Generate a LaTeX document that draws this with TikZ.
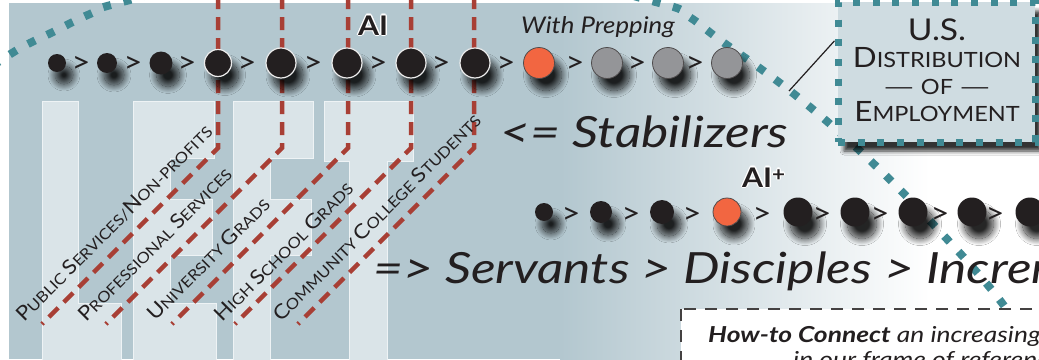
\documentclass[tikz,border=0pt]{standalone}
\usepackage{fontspec}
\usepackage{graphicx}
\setmainfont{Lato}[FakeStretch=1.12]
\newfontfamily\widefont{Lato}[FakeStretch=1.2]
\usetikzlibrary{shadows.blur}

\definecolor{bgblue}{RGB}{179,199,207}
\definecolor{letterfill}{RGB}{218,228,232}
\definecolor{letterline}{RGB}{238,243,245}
\definecolor{redline}{RGB}{168,63,53}
\definecolor{tealdot}{RGB}{64,138,148}
\definecolor{ink}{RGB}{35,31,32}
\definecolor{orangedot}{RGB}{242,102,65}
\definecolor{graydot}{RGB}{148,149,152}
\definecolor{boxfill}{RGB}{207,220,225}

\newcommand{\initcap}[1]{{\fontsize{20}{20}\selectfont #1}}
\newcommand{\boxcap}[1]{{\fontsize{28}{28}\selectfont #1}}
\newcommand{\longdash}{\scalebox{1.7}[1]{—}}
\newcommand{\aiplus}{\raisebox{6pt}{\fontsize{20}{20}\selectfont +}}

\tikzset{
  dotshadow/.style={blur shadow={shadow xshift=7pt, shadow yshift=-12pt, shadow blur radius=7pt,
    shadow blur steps=24, shadow opacity=85}},
  blackdot/.style={circle, inner sep=0pt, outer sep=0pt, fill=ink, dotshadow},
  rimdot/.style={blackdot, draw=white!85!gray, line width=1.2pt, minimum size=30pt},
  orangeball/.style={blackdot, fill=orangedot, draw=ink!80, line width=0.8pt},
  grayball/.style={blackdot, fill=graydot, draw=ink!80, line width=0.8pt, minimum size=31pt},
  gtsign/.style={font=\fontsize{29}{29}\selectfont, text=ink, inner sep=0pt},
  redpath/.style={draw=redline, line width=4.5pt, dash pattern=on 13pt off 8pt},
  tealpath/.style={draw=tealdot, line width=8pt, dash pattern=on 8pt off 13pt},
  grouplabel/.style={rotate=45, anchor=base west, inner sep=0pt, text=ink, font=\fontsize{15}{15}\selectfont},
  bigitalic/.style={anchor=base west, inner sep=0pt, text=ink, font=\fontsize{43}{43}\widefont\itshape},
  aimark/.style={anchor=base west, inner sep=0pt, font=\fontsize{27}{27}\selectfont\bfseries},
  letterbg/.style={fill=letterfill, draw=letterline, line width=1pt},
  usbox/.style={rectangle, minimum width=197pt, minimum height=140pt, inner sep=0pt, fill=boxfill,
    draw=tealdot, line width=7pt, dash pattern=on 7pt off 12.7pt,
    blur shadow={shadow xshift=6pt, shadow yshift=-9pt, shadow blur radius=4pt, shadow opacity=80}},
  howtobox/.style={fill=white, draw=ink!85, line width=2pt, dash pattern=on 12pt off 9pt},
  howtotext/.style={anchor=base west, inner sep=0pt, text=ink, font=\fontsize{22}{22}\widefont\itshape},
}

\begin{document}
\begin{tikzpicture}[x=1pt, y=-1pt]
\useasboundingbox (0,0) rectangle (1039,359);
\clip (0,0) rectangle (1039,359);

% background
\fill[white] (0,0) rectangle (1039,359);
\fill[bgblue] (9,3) rectangle (561,359);
\shade[left color=bgblue, right color=white] (560,3) rectangle (930,359);

% LEFT
\draw[letterbg] (42,101) -- (78,101) -- (78,303) -- (121,303) -- (121,365) -- (42,365) -- cycle;
\draw[letterbg] (133,101) -- (214,101) -- (214,158) -- (170,158) -- (170,199) -- (212,199) -- (212,255)
  -- (170,255) -- (170,303) -- (216,303) -- (216,365) -- (133,365) -- cycle;
\draw[letterbg] (233,101) -- (313,101) -- (313,158) -- (270,158) -- (270,199) -- (311,199) -- (311,255)
  -- (270,255) -- (270,365) -- (233,365) -- cycle;
\draw[letterbg] (324,101) -- (413,101) -- (413,161) -- (387,161) -- (387,365) -- (349,365) -- (349,161)
  -- (324,161) -- cycle;

% distribution curve
\coordinate (curvehit) at (789,91);
\draw[tealpath] plot[smooth, tension=0.6] coordinates {(-25,78) (17,50) (53,32) (90,14) (130,0)
  (389,-62) (648,0) (686,15) (720,40) (789,90) (859,150) (932,223) (1002,303) (1050,380)};

% group lines
\foreach \x in {218,282,348,411,474}
  \draw[redpath] (\x,-4) -- (\x,148) -- ++(-176,176);

\node[grouplabel] (lblpublic) at (24,323) {\initcap{P}UBLIC \initcap{S}ERVICES/\initcap{N}ON-PROFITS};
\node[grouplabel] (lblprof) at (86,323) {\initcap{P}ROFESSIONAL \initcap{S}ERVICES};
\node[grouplabel] (lbluni) at (155,322) {\initcap{U}NIVERSITY \initcap{G}RADS};
\node[grouplabel] (lblhigh) at (222,323) {\initcap{H}IGH \initcap{S}CHOOL \initcap{G}RADS};
\node[grouplabel] (lblcomm) at (281,323) {\initcap{C}OMMUNITY \initcap{C}OLLEGE \initcap{S}TUDENTS};

% upper row
\foreach \x/\d [count=\i] in {57/18,107/20,161/23}
  \node[blackdot, minimum size=\d pt] (top\i) at (\x,63) {};
\node[rimdot, minimum size=27pt] (top4) at (218,63) {};
\foreach \x [count=\i from 5] in {281,347,411,475}
  \node[rimdot] (top\i) at (\x,63) {};
\node[orangeball, minimum size=31pt] (top9) at (539,63) {};
\foreach \x [count=\i from 10] in {607,668,727}
  \node[grayball] (top\i) at (\x,63) {};
\foreach \x [count=\i] in {81,133,187,247,313,378,441,506,575,637,695}
  \node[gtsign] (topgt\i) at (\x,64) {>};

% lower row
\foreach \x/\d [count=\i] in {544/18,601/22,662/24}
  \node[blackdot, minimum size=\d pt] (low\i) at (\x,212) {};
\node[orangeball, minimum size=28pt] (low4) at (727,212) {};
\foreach \x [count=\i from 5] in {798,855,913,972,1030}
  \node[blackdot, minimum size=29pt] (low\i) at (\x,212) {};
\foreach \x [count=\i] in {571,631,692,762,822,880,940,995}
  \node[gtsign] (lowgt\i) at (\x,215) {>};

% titles
\node[anchor=base west, inner sep=0pt, text=ink, font=\fontsize{23}{23}\selectfont\itshape] (prepping) at (521,33) {With Prepping};
\foreach \a in {0,45,...,315}
  \node[aimark, text=white, shift={(\a:1.3)}] (aihalo\a) at (358,35) {AI};
\node[aimark, text=ink] (ai) at (358,35) {AI};
\foreach \a in {0,45,...,315}
  \node[aimark, text=white, shift={(\a:1.3)}] (aiplushalo\a) at (742,187) {AI\aiplus};
\node[aimark, text=ink] (aiplus) at (742,187) {AI\aiplus};

\node[bigitalic] (stabilizers) at (500,147) {<= Stabilizers};
\node[bigitalic] (servants) at (373,283) {=> Servants > Disciples > Increm};

% employment box
\node[usbox] (usbox) at (936.5,72) {};
\draw[ink, line width=1.2pt] (usbox.163) -- (curvehit);
\node[inner sep=0pt, text=ink, align=center, font=\fontsize{21}{27}\selectfont] (ustitle) at (937,70)
  {{\fontsize{30}{30}\selectfont U.S.}\\ \boxcap{D}ISTRIBUTION\\ \longdash\ OF \longdash\\ \boxcap{E}MPLOYMENT};

% how-to box
\draw[howtobox] (681,309) rectangle (1070,400);
\node[howtotext] (howto) at (708,342) {\bfseries How-to Connect\mdseries\ an increasing};
\node[howtotext] (howtonext) at (793,367) {in our frame of reference};
\end{tikzpicture}
\end{document}
